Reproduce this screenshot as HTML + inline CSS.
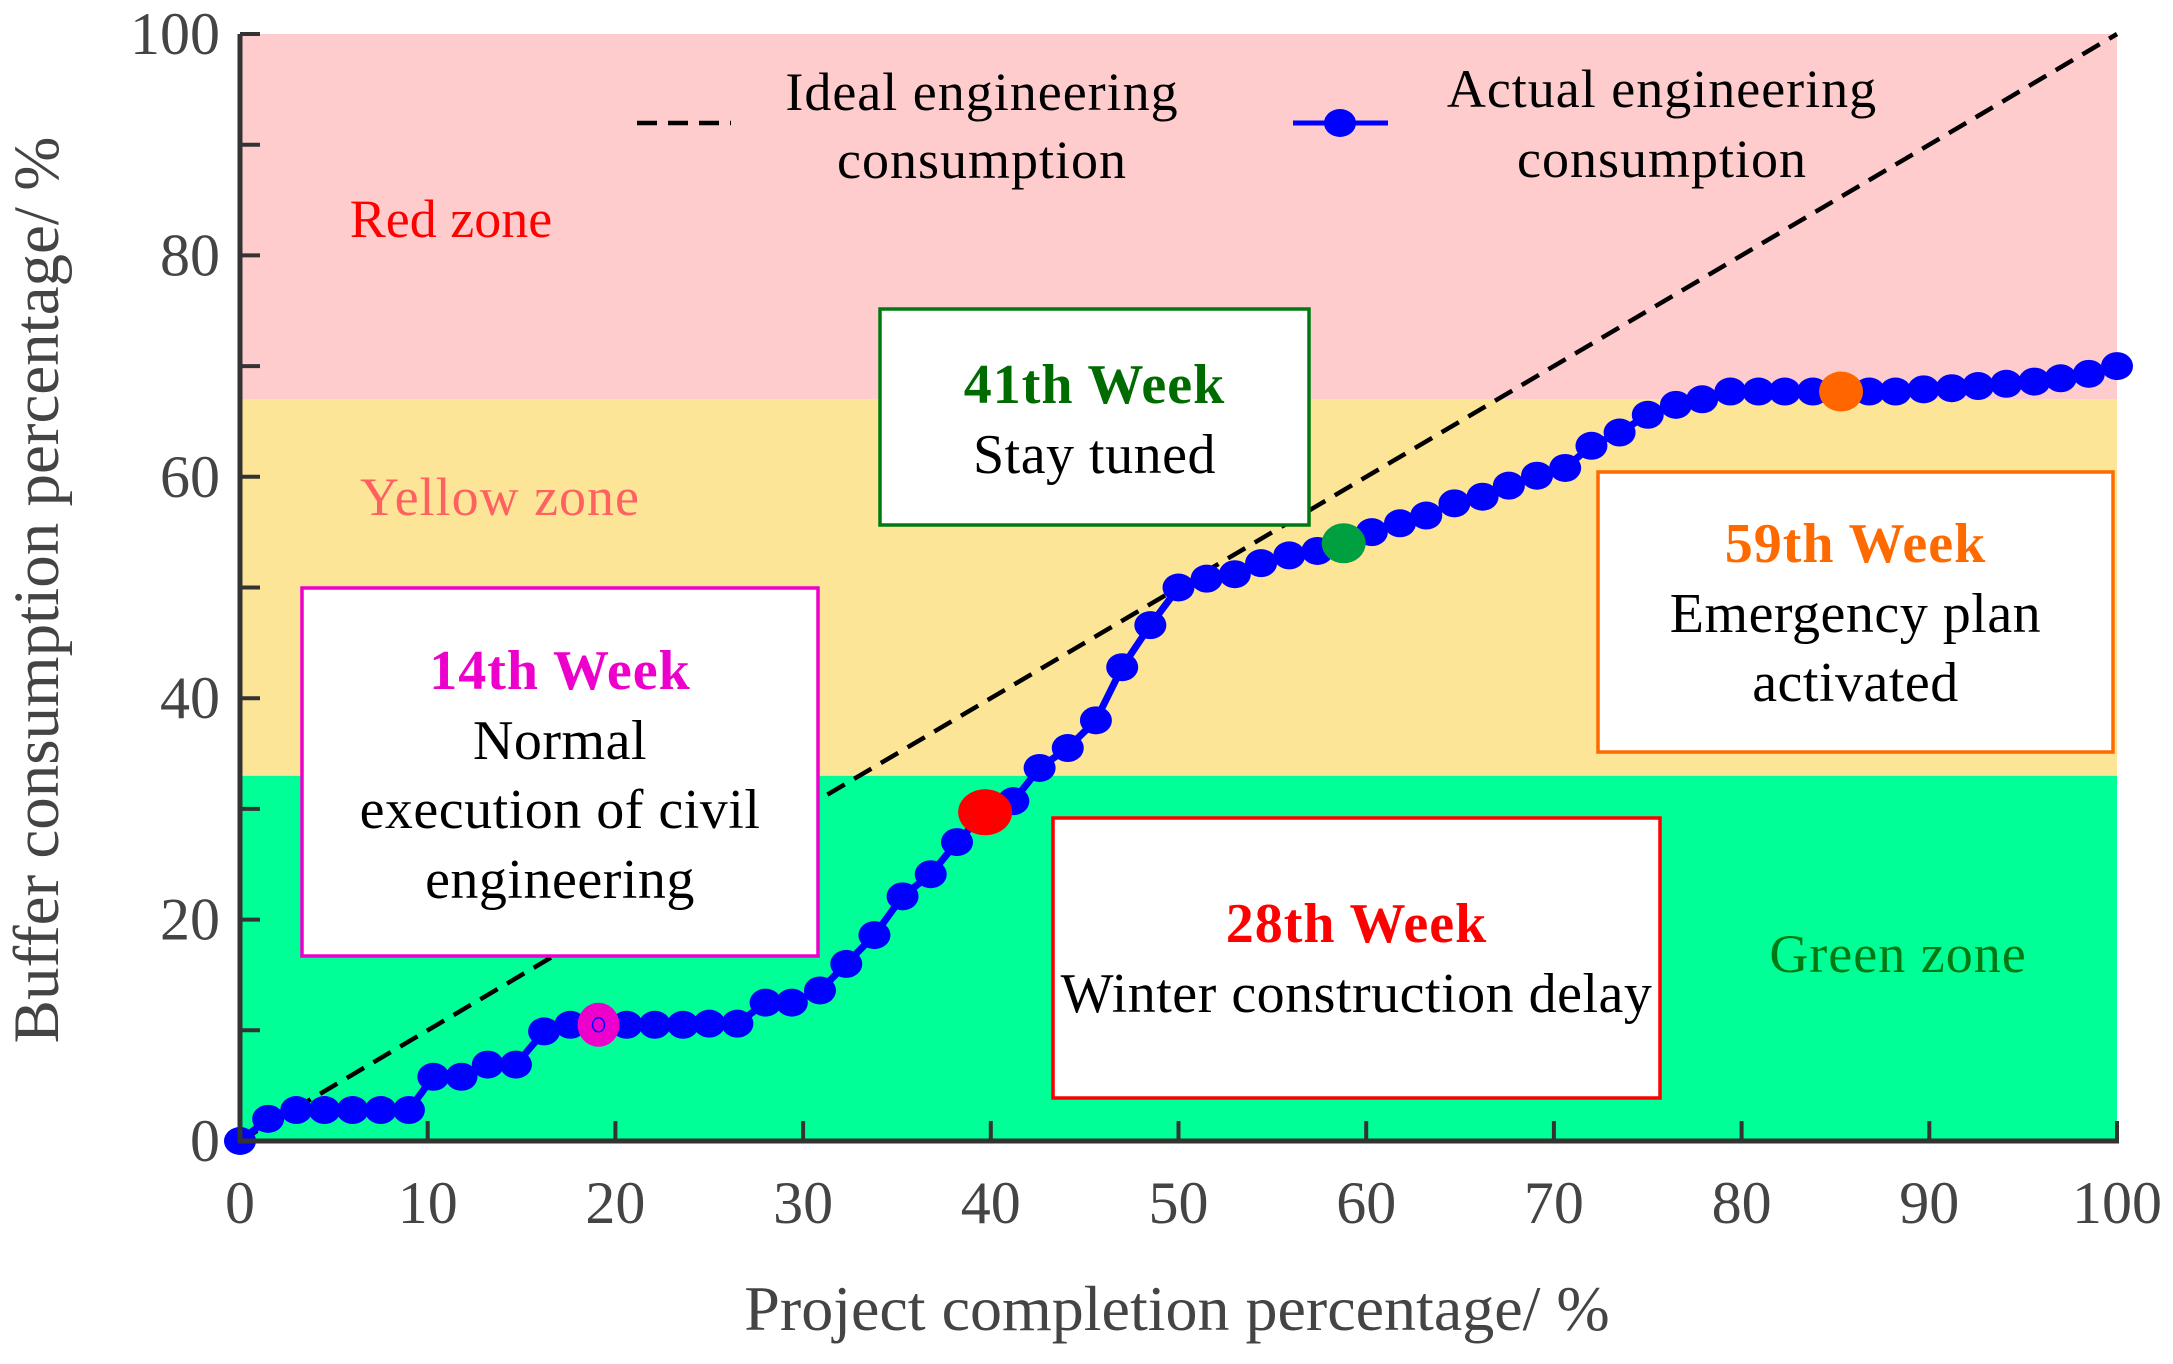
<!DOCTYPE html>
<html><head><meta charset="utf-8"><style>
html,body{margin:0;padding:0;background:#fff;}
svg{display:block;font-family:"Liberation Serif",serif;}
</style></head><body>
<svg id="chart" width="2173" height="1364" viewBox="0 0 2173 1364" xmlns="http://www.w3.org/2000/svg">
<g id="zones"></g>
<g id="ideal"></g>
<g id="boxes"></g>
<g id="series"></g>
<g id="axes"></g>
<g id="labels"></g>
</svg>
<script>
const xs=[0,1.5,3,4.5,6,7.5,9,10.3,11.8,13.2,14.7,16.2,17.6,19.1,20.6,22.1,23.6,25,26.5,28,29.4,30.9,32.3,33.8,35.3,36.8,38.2,39.7,41.2,42.6,44.1,45.6,47,48.5,50,51.5,53,54.4,55.9,57.4,58.8,60.3,61.8,63.2,64.7,66.2,67.6,69.1,70.6,72,73.5,75,76.5,77.9,79.4,80.9,82.3,83.8,85.3,86.8,88.2,89.7,91.2,92.6,94.1,95.6,97,98.5,100];
const ys=[0,2,2.8,2.8,2.8,2.8,2.8,5.8,5.8,6.9,6.9,9.9,10.5,10.5,10.5,10.5,10.5,10.6,10.6,12.5,12.5,13.6,16,18.6,22.1,24.1,27,29.7,30.7,33.7,35.5,38,42.8,46.6,50,50.8,51.2,52.2,52.9,53.3,54,55,55.8,56.5,57.6,58.2,59.2,60.1,60.8,62.8,64,65.6,66.5,67,67.7,67.7,67.7,67.7,67.7,67.7,67.7,67.9,68,68.2,68.4,68.6,68.9,69.3,70];
const idealX=[0,100];
const idealY=[0,100];
const zoneBounds=[0,33,67,100];
const zoneNames=["green-zone","yellow-zone","red-zone"];
const zoneColors=["#00ff96","#fde597","#fecccc"];
const xTicks=[0,10,20,30,40,50,60,70,80,90,100];
const yTicks=[0,10,20,30,40,50,60,70,80,90,100];
const yLabels=[0,20,40,60,80,100];
const highlights=[{i:13,c:"#ee00cc",rx:21,ry:22,n:"week-14-marker"},{i:27,c:"#ff0000",rx:27,ry:23,n:"week-28-marker"},{i:40,c:"#00a040",rx:22,ry:20,n:"week-41-marker"},{i:58,c:"#ff6600",rx:22,ry:20,n:"week-59-marker"}];

const X0=240,X1=2117,Y0=1141,Y1=34;
const sx=v=>X0+(X1-X0)*v/100;
const sy=v=>Y0-(Y0-Y1)*v/100;
const NS="http://www.w3.org/2000/svg";
function mk(tag,attrs,parent){const e=document.createElementNS(NS,tag);for(const k in attrs)e.setAttribute(k,attrs[k]);parent.appendChild(e);return e;}
const zones=document.getElementById('zones');
for(let i=0;i<3;i++){
  const r=mk('rect',{x:X0,y:sy(zoneBounds[i+1]),width:X1-X0,height:sy(zoneBounds[i])-sy(zoneBounds[i+1]),fill:zoneColors[i]},zones);
  
  
}
const ideal=document.getElementById('ideal');
const il=mk('line',{x1:sx(idealX[0]),y1:sy(idealY[0]),x2:sx(idealX[1]),y2:sy(idealY[1]),stroke:"#000","stroke-width":4.5,"stroke-dasharray":"20 11"},ideal);



const boxes=document.getElementById('boxes');
const boxDefs=[
 {n:"week-41-box",x:880,y:309,w:429,h:216,c:"#007a10",lines:[["41th Week","#006b00",true,384],["Stay tuned","#000",false,454]]},
 {n:"week-14-box",x:302,y:588,w:516,h:368,c:"#ee00cc",lines:[["14th Week","#ee00cc",true,670],["Normal","#000",false,740],["execution of civil","#000",false,809],["engineering","#000",false,879]]},
 {n:"week-28-box",x:1053,y:818,w:607,h:280,c:"#ff0000",lines:[["28th Week","#ff0000",true,923],["Winter construction delay","#000",false,993]]},
 {n:"week-59-box",x:1598,y:472,w:515,h:280,c:"#ff6a00",lines:[["59th Week","#ff6a00",true,543],["Emergency plan","#000",false,613],["activated","#000",false,682]]}
];
for(const b of boxDefs){
  const g=mk('g',{},boxes);
  
  
  mk('rect',{x:b.x,y:b.y,width:b.w,height:b.h,fill:"#fff",stroke:b.c,"stroke-width":3.5},g);
  for(const l of b.lines){
    const t=mk('text',{x:b.x+b.w/2,y:l[3]+19,"text-anchor":"middle","font-size":56,fill:l[1],"font-weight":l[2]?"bold":"normal","letter-spacing":l[2]?"1":"0.5"},g);
    t.textContent=l[0];
  }
}

const series=document.getElementById('series');
let pts=xs.map((x,i)=>sx(x)+","+sy(ys[i])).join(" ");
const pl=mk('polyline',{points:pts,fill:"none",stroke:"#0000ff","stroke-width":7,"stroke-linejoin":"round"},series);


xs.forEach((x,i)=>{
  const c=mk('ellipse',{cx:sx(x),cy:sy(ys[i]),rx:16,ry:14,fill:"#0000ff"},series);
  
  
});
for(const h of highlights){
  const c=mk('ellipse',{cx:sx(xs[h.i]),cy:sy(ys[h.i]),rx:h.rx,ry:h.ry,fill:h.c},series);
  
  
}
mk('ellipse',{cx:sx(xs[13]),cy:sy(ys[13]),rx:6,ry:7,fill:"none",stroke:"#0000ff","stroke-width":1.5},series);

const axes=document.getElementById('axes');
const ya=mk('line',{x1:X0,y1:Y1,x2:X0,y2:Y0+2,stroke:"#333","stroke-width":5},axes);


const xa=mk('line',{x1:X0-2,y1:Y0,x2:X1+2,y2:Y0,stroke:"#333","stroke-width":5},axes);


for(const t of yTicks){mk('line',{x1:X0,y1:sy(t),x2:X0+20,y2:sy(t),stroke:"#333","stroke-width":4},axes);}
for(const t of xTicks){mk('line',{x1:sx(t),y1:Y0,x2:sx(t),y2:Y0-20,stroke:"#333","stroke-width":4},axes);}
for(const t of yLabels){
  const e=mk('text',{x:X0-20,y:sy(t)+20,"text-anchor":"end","font-size":60,fill:"#444"},axes);
  e.textContent=t;
  
  
}
for(const t of xTicks){
  const e=mk('text',{x:sx(t),y:1223,"text-anchor":"middle","font-size":60,fill:"#444"},axes);
  e.textContent=t;
  
  
}
</script>
<svg style="position:absolute;left:0;top:0" width="2173" height="1364" xmlns="http://www.w3.org/2000/svg">
<text x="1177" y="1330" text-anchor="middle" font-size="64" fill="#444" font-family="Liberation Serif, serif">Project completion percentage/ %</text>
<text transform="translate(58,590) rotate(-90)" text-anchor="middle" font-size="65" fill="#444" font-family="Liberation Serif, serif">Buffer consumption percentage/ %</text>
<text x="451" y="237" text-anchor="middle" font-size="54" fill="#ff0000" font-family="Liberation Serif, serif">Red zone</text>
<text x="500" y="515" text-anchor="middle" font-size="54" fill="#ff6060" font-family="Liberation Serif, serif" letter-spacing="1">Yellow zone</text>
<text x="1898" y="972" text-anchor="middle" font-size="54" fill="#007a10" font-family="Liberation Serif, serif" letter-spacing="1">Green zone</text>
<g font-family="Liberation Serif, serif" font-size="54" fill="#000">
<line x1="637" y1="123" x2="731" y2="123" stroke="#000" stroke-width="4.5" stroke-dasharray="20 11"/>
<text x="982" y="110" text-anchor="middle" letter-spacing="1">Ideal engineering</text>
<text x="982" y="178" text-anchor="middle" letter-spacing="1">consumption</text>
<line x1="1293" y1="123" x2="1388" y2="123" stroke="#0000ff" stroke-width="5"/>
<ellipse cx="1340" cy="123" rx="16" ry="14" fill="#0000ff"/>
<text x="1662" y="107" text-anchor="middle" letter-spacing="1">Actual engineering</text>
<text x="1662" y="177" text-anchor="middle" letter-spacing="1">consumption</text>
</g>
</svg>
</body></html>
